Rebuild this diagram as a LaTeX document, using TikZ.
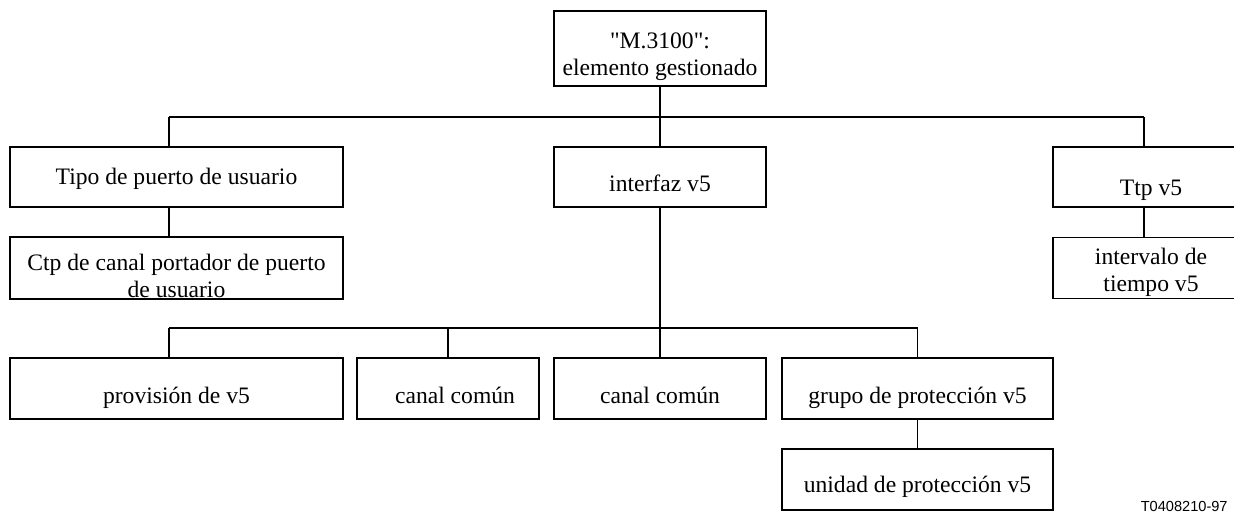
\documentclass[tikz,border=0pt]{standalone}
\usepackage{fontspec}
\setmainfont{Liberation Serif}[Ligatures=TeXOff]
\newfontfamily\figfont{Liberation Sans}
\usetikzlibrary{positioning}

\begin{document}
\begin{tikzpicture}[x=0.5pt,y=-0.5pt,node distance=45.5pt,on grid,
  box/.style={draw,line width=0.6pt,inner sep=0pt,minimum height=30.5pt,
    text height=14.5pt,text depth=0pt,font=\fontsize{11.8}{13.5}\selectfont},
  thinline/.style={line width=0.6pt},
  thickline/.style={line width=1.1pt}]
\clip (0,0) rectangle (1234,514);
  % top
  \node[box,minimum width=106pt,minimum height=37.5pt,text height=8pt,text depth=8pt]
        (elem) at (660,48.5)
        {\begin{tabular}[t]{@{}c@{}}"M.3100":\\elemento gestionado\end{tabular}};
  % second level
  \node[box,minimum width=166.5pt,minimum height=30pt,text height=7pt] (tipo) at (176.5,177) {Tipo de puerto de usuario};
  \node[box,minimum width=106pt,minimum height=30pt] (interfaz) at (660,177) {interfaz v5};
  \node[box,minimum width=98pt,minimum height=30pt,text height=18pt] (ttp) at (1151,177) {Ttp v5};
  \node[box,minimum width=166.5pt,minimum height=31pt,text height=9pt,text depth=7pt]
        (ctp) [below =of tipo]
        {\begin{tabular}[t]{@{}c@{}}Ctp de canal portador de puerto\\de usuario\end{tabular}};
  \node[box,minimum width=98pt,text height=5pt,text depth=8.5pt]
        (intervalo) [below =of ttp]
        {\begin{tabular}[t]{@{}c@{}}intervalo de\\tiempo v5\end{tabular}};
  % bottom row
  \node[box,minimum width=166.5pt] (provision) at (176.5,388.5) {provisión de v5};
  \node[box,minimum width=91pt] (canalA) at (448,388.5) {\hspace*{7pt}canal común};
  \node[box,minimum width=106pt] (canalB) at (660,388.5) {canal común};
  \node[box,minimum width=135.5pt] (grupo) at (917.5,388.5) {grupo de protección v5};
  \node[box,minimum width=135.5pt,text height=13pt] (unidad) [below =of grupo] {unidad de protección v5};
  \node[font=\figfont\fontsize{7.3}{8}\selectfont,anchor=base east,inner sep=0pt] (ref) at (1228,511) {T0408210-97};
  % buses
  \coordinate (busA) at (169,117);
  \coordinate (busB) at (1144,117);
  \coordinate (busC) at (169,328);
  \coordinate (busD) at (918,328);
  \draw[thinline] (busA) -- (busB);
  \draw[thinline] (busC) -- (busD);
  % connectors
  \draw[thickline] (elem) -- (interfaz);
  \draw[thickline] (interfaz) -- (interfaz |- busC);
  \draw[thinline] (busA) -- (busA |- tipo.north);
  \draw[thinline] (busB) -- (busB |- ttp.north);
  \draw[thinline] (tipo.south -| busA) -- (ctp.north -| busA);
  \draw[thinline] (ttp.south -| busB) -- (intervalo.north -| busB);
  \draw[thinline] (busC) -- (busC |- provision.north);
  \draw[thickline] (canalA) -- (canalA |- busC);
  \draw[thickline] (canalB) -- (canalB |- busC);
  \draw[thinline] (grupo) -- (grupo |- busC);
  \draw[thinline] (grupo) -- (unidad);
\end{tikzpicture}
\end{document}
